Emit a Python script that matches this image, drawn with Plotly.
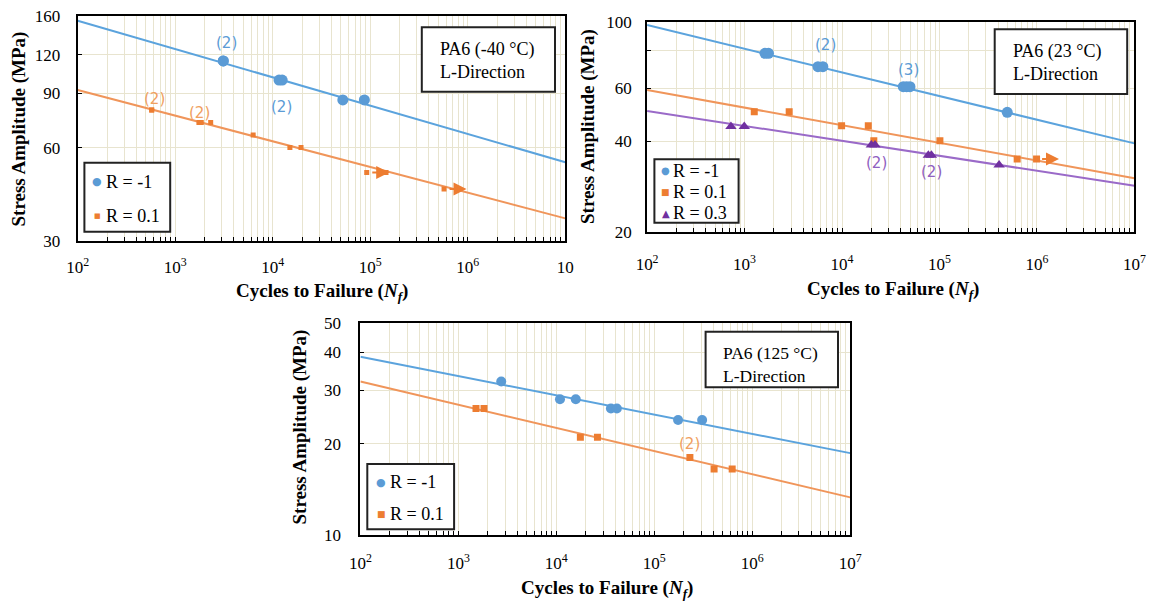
import numpy as np
import plotly.graph_objects as go

FONT = "Liberation Serif"
BLUE_M, BLUE_L, BLUE_T = "#5b9bd5", "#5ba3dd", "#5b9bd5"
ORANGE_M, ORANGE_L, ORANGE_T = "#ed7d31", "#f0955a", "#f0a060"
PURPLE_M, PURPLE_L, PURPLE_T = "#7030a0", "#9a6ac8", "#9060c0"
GRID = "#e8e4cf"

# ---------------- data ----------------
x_decades = [2, 3, 4, 5, 6, 7]

# Panel 1: PA6 (-40 C)
p1_m1_N = [3110, 3110, 11600, 12500, 52300, 87000]
p1_m1_S = [114.5, 114.5, 99.3, 99.3, 85.7, 85.7]
p1_m1_fitN = [1e2, 1e7]
p1_m1_fitS = [154.5, 53.9]
p1_r01_N = [574, 574, 1750, 1850, 2310, 6300, 15000, 19500, 92000, 145000, 571000]
p1_r01_S = [79.5, 79.5, 72.5, 72.5, 72.5, 66.0, 60.2, 60.2, 49.9, 49.9, 44.2]
p1_r01_fitN = [1e2, 1e7]
p1_r01_fitS = [92.3, 35.5]
p1_runout_N = [92000, 571000]
p1_runout_S = [49.9, 44.2]
p1_yticks = [30, 60, 90, 120, 160]
p1_ylabels = ["30", "60", "90", "120", "160"]

# Panel 2: PA6 (23 C)
p2_m1_N = [1620, 1760, 5660, 6360, 42500, 46000, 49800, 496000]
p2_m1_S = [78.5, 78.5, 70.9, 70.9, 60.8, 60.8, 60.8, 50.0]
p2_m1_fitN = [1e2, 1e7]
p2_m1_fitS = [97.5, 39.4]
p2_r01_N = [1258, 2870, 9900, 18600, 21200, 101000, 627000, 991000]
p2_r01_S = [50.2, 50.2, 45.1, 45.1, 40.2, 40.2, 35.0, 35.0]
p2_r01_fitN = [1e2, 1e7]
p2_r01_fitS = [59.3, 30.2]
p2_r03_N = [725, 993, 20000, 21800, 76900, 82600, 409000]
p2_r03_S = [44.8, 44.8, 38.9, 38.9, 36.0, 36.0, 33.4]
p2_r03_fitN = [1e2, 1e7]
p2_r03_fitS = [50.5, 28.5]
p2_runout_N = [991000]
p2_runout_S = [35.0]
p2_yticks = [20, 40, 60, 80, 100]
p2_ylabels = ["20", "40", "60", "", "100"]

# Panel 3: PA6 (125 C)
p3_m1_N = [2740, 10900, 15800, 36100, 41500, 175000, 308000]
p3_m1_S = [32.0, 28.0, 28.0, 26.1, 26.1, 23.9, 23.9]
p3_m1_fitN = [1e2, 1e7]
p3_m1_fitS = [38.6, 18.6]
p3_r01_N = [1514, 1828, 17600, 26300, 231000, 408000, 624000]
p3_r01_S = [26.1, 26.1, 21.0, 21.0, 18.0, 16.5, 16.5]
p3_r01_fitN = [1e2, 1e7]
p3_r01_fitS = [32.0, 13.3]
p3_yticks = [10, 20, 30, 40, 50]
p3_ylabels = ["10", "20", "30", "40", "50"]

# count labels (N, S)
p1_counts_blue = [(3350, 130.6), (12400, 81.5)]
p1_counts_orange = [(611, 86.3), (1790, 77.6)]
p2_counts_blue = [(6780, 83.7, "(2)"), (47900, 69.1, "(3)")]
p2_counts_purple = [(22700, 34.0), (83600, 31.7)]
p3_counts_orange = [(228000, 20.0)]

series_names = ["R = -1", "R = 0.1", "R = 0.3"]

# ---------------- helpers ----------------
W, H = 1149, 601
def fx(p): return p / W
def fy(p): return 1 - p / H

x_major = [10 ** e for e in x_decades]
x_minor = [m * 10 ** e for e in x_decades[:-1] for m in range(2, 10)]
def x_text(last_label=None):
    out = ["10<sup>%d</sup>" % e for e in x_decades]
    if last_label:
        out[-1] = last_label
    return out

fig = go.Figure()

def line(N, S, color, xa, ya):
    fig.add_trace(go.Scatter(x=N, y=S, mode="lines", line=dict(color=color, width=2),
                             xaxis=xa, yaxis=ya, showlegend=False, hoverinfo="skip"))

def pts(N, S, symbol, size, color, name, xa, ya):
    fig.add_trace(go.Scatter(x=N, y=S, mode="markers", name=name, showlegend=False,
                             marker=dict(symbol=symbol, size=size, color=color),
                             xaxis=xa, yaxis=ya))

# panel 1
line(p1_m1_fitN, p1_m1_fitS, BLUE_L, "x", "y")
line(p1_r01_fitN, p1_r01_fitS, ORANGE_L, "x", "y")
pts(p1_m1_N, p1_m1_S, "circle", 11, BLUE_M, series_names[0], "x", "y")
pts(p1_r01_N, p1_r01_S, "square", 5, ORANGE_M, series_names[1], "x", "y")
# panel 2
line(p2_m1_fitN, p2_m1_fitS, BLUE_L, "x2", "y2")
line(p2_r01_fitN, p2_r01_fitS, ORANGE_L, "x2", "y2")
line(p2_r03_fitN, p2_r03_fitS, PURPLE_L, "x2", "y2")
pts(p2_m1_N, p2_m1_S, "circle", 11, BLUE_M, series_names[0], "x2", "y2")
pts(p2_r01_N, p2_r01_S, "square", 7, ORANGE_M, series_names[1], "x2", "y2")
pts(p2_r03_N, p2_r03_S, "triangle-up", 10, PURPLE_M, series_names[2], "x2", "y2")
# panel 3
line(p3_m1_fitN, p3_m1_fitS, BLUE_L, "x3", "y3")
line(p3_r01_fitN, p3_r01_fitS, ORANGE_L, "x3", "y3")
pts(p3_m1_N, p3_m1_S, "circle", 10, BLUE_M, series_names[0], "x3", "y3")
pts(p3_r01_N, p3_r01_S, "square", 7, ORANGE_M, series_names[1], "x3", "y3")

def xaxis_cfg(x0, x1, anchor, ticktext, standoff):
    return dict(type="log", range=[x_decades[0], x_decades[-1]], domain=[fx(x0), fx(x1)], anchor=anchor,
                tickmode="array", tickvals=x_major, ticktext=ticktext, automargin=False,
                ticks="inside", ticklen=4, tickcolor="black", tickwidth=1,
                showgrid=True, gridcolor=GRID, gridwidth=1, zeroline=False,
                minor=dict(tickmode="array", tickvals=x_minor, ticks="inside", ticklen=4,
                           tickcolor="black", showgrid=True, gridcolor=GRID, gridwidth=1),
                showline=True, linecolor="black", linewidth=2, mirror=True,
                tickfont=dict(family=FONT, size=17, color="black"),
                ticklabelstandoff=standoff)

def yaxis_cfg(ytop, ybot, anchor, vals, labels, standoff):
    return dict(type="log", range=[np.log10(vals[0]), np.log10(vals[-1])], domain=[fy(ybot), fy(ytop)],
                anchor=anchor, tickmode="array", tickvals=vals, ticktext=labels, automargin=False,
                ticks="inside", ticklen=4, tickcolor="black", tickwidth=1,
                showgrid=True, gridcolor=GRID, gridwidth=1, zeroline=False,
                showline=True, linecolor="black", linewidth=2, mirror=True,
                tickfont=dict(family=FONT, size=17, color="black"),
                ticklabelstandoff=standoff)

fig.update_layout(
    width=W, height=H, margin=dict(l=0, r=0, t=0, b=0, autoexpand=False),
    paper_bgcolor="white", plot_bgcolor="white", hovermode=False, showlegend=False,
    xaxis=xaxis_cfg(77.7, 565.3, "y", x_text("10"), 10),
    yaxis=yaxis_cfg(16, 241, "x", p1_yticks, p1_ylabels, 12),
    xaxis2=xaxis_cfg(647.1, 1134.4, "y2", x_text(), 16),
    yaxis2=yaxis_cfg(21.7, 232, "x2", p2_yticks, p2_ylabels, 10),
    xaxis3=xaxis_cfg(360.4, 850.2, "y3", x_text(), 12),
    yaxis3=yaxis_cfg(322.7, 535, "x3", p3_yticks, p3_ylabels, 14),
)

shapes = []
annotations = []

def box(x0, x1, y0, y1):
    shapes.append(dict(type="rect", xref="paper", yref="paper", x0=fx(x0), x1=fx(x1), y0=fy(y1), y1=fy(y0),
                       line=dict(color="#222", width=2), fillcolor="white", layer="above"))

def textbox(x0, x1, y0, y1, tx, ty, text, size):
    box(x0, x1, y0, y1)
    annotations.append(dict(xref="paper", yref="paper", x=fx(tx), y=fy(ty), xanchor="left", yanchor="middle",
                            text=text, showarrow=False, align="left",
                            font=dict(family=FONT, size=size, color="black")))

textbox(421.8, 555, 27.3, 91.7, 438, 60, "PA6 (-40 °C)<br>L-Direction", 18)
textbox(994.7, 1127.2, 29.3, 94, 1011, 62, "PA6 (23 °C)<br>L-Direction", 18)
textbox(705.6, 838, 331.7, 387.3, 721, 364.5, "PA6 (125 °C)<br>L-Direction", 17.5)

# legends (box + symbol + label)
GLYPH = {"circle": "●", "square": "■", "triangle": "▲"}
def legend(x0, x1, y0, y1, mx, tx, rows):
    box(x0, x1, y0, y1)
    for (yy, g, gsize, color, name) in rows:
        annotations.append(dict(xref="paper", yref="paper", x=fx(mx), y=fy(yy), xanchor="center",
                                yanchor="middle", text=GLYPH[g], showarrow=False,
                                font=dict(family="DejaVu Sans", size=gsize, color=color)))
        annotations.append(dict(xref="paper", yref="paper", x=fx(tx), y=fy(yy), xanchor="left",
                                yanchor="middle", text=name, showarrow=False,
                                font=dict(family=FONT, size=18, color="black")))

legend(84.4, 170.2, 162.7, 231.7, 97.3, 104,
       [(182, "circle", 11, BLUE_M, series_names[0]), (215.5, "square", 7, ORANGE_M, series_names[1])])
legend(654.4, 738.6, 159.3, 222.7, 665.7, 671,
       [(171, "circle", 10, BLUE_M, series_names[0]), (192, "square", 9, ORANGE_M, series_names[1]),
        (213, "triangle", 10, PURPLE_M, series_names[2])])
legend(367.3, 454.1, 464, 529.3, 381.4, 387.5,
       [(482, "circle", 11, BLUE_M, series_names[0]), (513.5, "square", 9, ORANGE_M, series_names[1])])

def axis_titles(cx, ty, yx, cy):
    annotations.append(dict(xref="paper", yref="paper", x=fx(cx), y=fy(ty), xanchor="center", yanchor="middle",
                            text="<b>Cycles to Failure (<i>N<sub>f</sub></i>)</b>", showarrow=False,
                            font=dict(family=FONT, size=19, color="black")))
    annotations.append(dict(xref="paper", yref="paper", x=fx(yx), y=fy(cy), xanchor="center", yanchor="middle",
                            text="<b>Stress Amplitude (MPa)</b>", showarrow=False, textangle=-90,
                            font=dict(family=FONT, size=19, color="black")))

axis_titles(322, 292, 18.5, 129)
axis_titles(893, 290, 588, 127)
axis_titles(607, 589, 299, 427.5)

def count(xa, ya, N, S, text, color):
    annotations.append(dict(xref=xa, yref=ya, x=np.log10(N), y=np.log10(S), text=text, showarrow=False,
                            xanchor="center", yanchor="middle",
                            font=dict(family="DejaVu Sans", size=15, color=color)))

for N, S in p1_counts_blue:
    count("x", "y", N, S, "(2)", BLUE_T)
for N, S in p1_counts_orange:
    count("x", "y", N, S, "(2)", ORANGE_T)
for N, S, t in p2_counts_blue:
    count("x2", "y2", N, S, t, BLUE_T)
for N, S in p2_counts_purple:
    count("x2", "y2", N, S, "(2)", PURPLE_T)
for N, S in p3_counts_orange:
    count("x3", "y3", N, S, "(2)", ORANGE_T)

def runout(xa, ya, N, S):
    annotations.append(dict(xref=xa, yref=ya, axref=xa, ayref=ya,
                            x=np.log10(N * 1.7), y=np.log10(S), ax=np.log10(N * 1.1), ay=np.log10(S),
                            text="", showarrow=True, arrowhead=2, arrowsize=1.3, arrowwidth=2,
                            arrowcolor=ORANGE_M))

for N, S in zip(p1_runout_N, p1_runout_S):
    runout("x", "y", N, S)
for N, S in zip(p2_runout_N, p2_runout_S):
    runout("x2", "y2", N, S)

fig.update_layout(shapes=shapes, annotations=annotations)
fig.write_html("out.html", config={"displayModeBar": False},
               post_script="document.body.style.margin='0';document.body.style.overflow='hidden';")
